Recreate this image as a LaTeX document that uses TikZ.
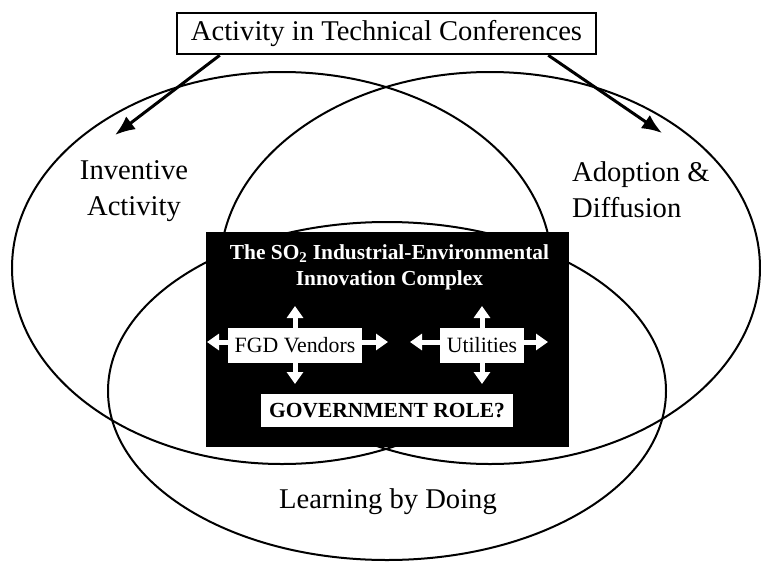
\documentclass[tikz,border=0pt]{standalone}
\usepackage{fontspec}
\setmainfont{Liberation Serif}
\usetikzlibrary{arrows.meta}
\begin{document}
\begin{tikzpicture}[x=1pt,y=-1pt,
  lbl/.style={font=\fontsize{28.6}{36}\selectfont, align=center, inner sep=0pt},
  ring/.style={line width=2pt},
  wbox/.style={fill=white, inner sep=0pt, font=\fontsize{21.8}{24}\selectfont},
  barrow/.style={white, line width=5pt, -{Triangle[length=12pt,width=16pt]}},
  bigarrow/.style={line width=3pt, -{Latex[length=20pt,width=16pt]}}]
\useasboundingbox (0,0) rectangle (761,563);
% three circles
\draw[ring] (282,268) ellipse [x radius=270pt, y radius=196pt];
\draw[ring] (490,268) ellipse [x radius=270pt, y radius=196pt];
\draw[ring] (387,391) ellipse [x radius=279pt, y radius=169pt];
% black complex box
\fill[black] (206,232) rectangle (569,447);
\node[font=\bfseries\fontsize{21.4}{26}\selectfont, text=white, align=center, inner sep=0pt] (title) at (389.5,267)
  {The SO\textsubscript{2} Industrial-Environmental\\Innovation Complex};
\node[wbox, minimum width=134pt, minimum height=35pt] (fgd) at (295,345.5) {FGD Vendors};
\node[wbox, minimum width=84pt, minimum height=35pt] (util) at (482,345.5) {Utilities};
\node[wbox, minimum width=252pt, minimum height=33pt, font=\bfseries\fontsize{21.5}{24}\selectfont] (gov) at (387,410.5) {GOVERNMENT ROLE?};
% block arrows
\coordinate (fu) at (295,306);
\coordinate (fl) at (207,342);
\coordinate (fr) at (388,342);
\coordinate (fd) at (295,384);
\coordinate (uu) at (482,306);
\coordinate (ul) at (410,342);
\coordinate (ur) at (548,342);
\coordinate (ud) at (482,384);
\draw[barrow] (fgd.north) -- (fu);
\draw[barrow] (fgd.west |- fl) -- (fl);
\draw[barrow] (fgd.east |- fr) -- (fr);
\draw[barrow] (fgd.south) -- (fd);
\draw[barrow] (util.north) -- (uu);
\draw[barrow] (util.west |- ul) -- (ul);
\draw[barrow] (util.east |- ur) -- (ur);
\draw[barrow] (util.south) -- (ud);
% conference box
\node[draw, line width=2.5pt, minimum width=419pt, minimum height=41pt, lbl, fill=white] (conf) at (386.5,33.5) {Activity in Technical Conferences};
\coordinate (ti) at (115,135);
\coordinate (ta) at (662,133);
\draw[bigarrow] (conf.south west) ++(44,0) -- (ti);
\draw[bigarrow] (conf.south east) ++(-49,0) -- (ta);
% labels
\node[lbl] (inv) at (134,191) {Inventive\\Activity};
\node[lbl, align=left, anchor=west] (adop) at (572,190) {Adoption \&\\Diffusion};
\node[lbl] (lbd) at (388,502) {Learning by Doing};
\end{tikzpicture}
\end{document}
